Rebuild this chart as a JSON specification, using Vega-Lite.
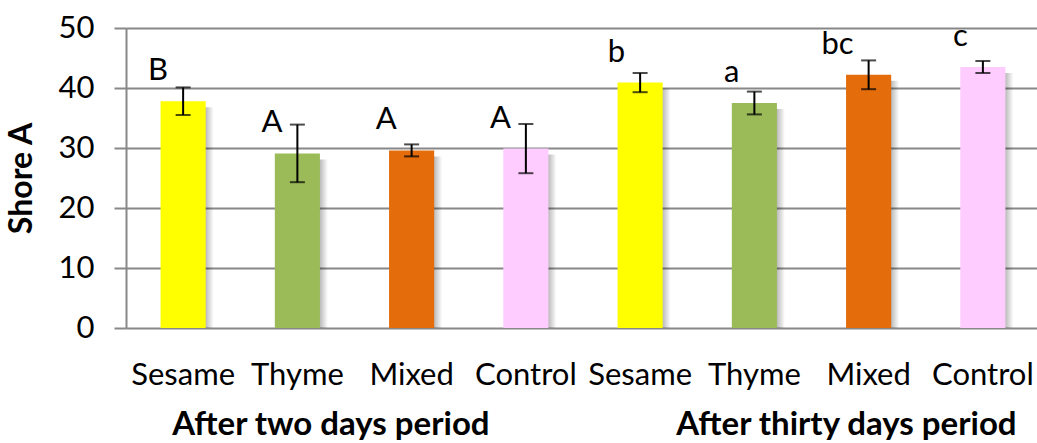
{
  "$schema": "https://vega.github.io/schema/vega-lite/v6.json",
  "autosize": "none",
  "width": 914,
  "height": 300,
  "padding": {"left": 126, "top": 28, "right": 0, "bottom": 115},
  "background": "white",
  "config": {
    "font": "Lato",
    "view": {"stroke": null},
    "axis": {"labelFont": "Lato", "titleFont": "Lato", "labelColor": "#000000", "titleColor": "#000000"}
  },
  "datasets": {
    "hardness": [
      {"period": "After two days period", "treatment": "Sesame", "key": "Sesame|two", "mean": 37.8, "sd": 2.3, "letter": "B"},
      {"period": "After two days period", "treatment": "Thyme", "key": "Thyme|two", "mean": 29.1, "sd": 4.8, "letter": "A"},
      {"period": "After two days period", "treatment": "Mixed", "key": "Mixed|two", "mean": 29.6, "sd": 1.0, "letter": "A"},
      {"period": "After two days period", "treatment": "Control", "key": "Control|two", "mean": 29.9, "sd": 4.1, "letter": "A"},
      {"period": "After thirty days period", "treatment": "Sesame", "key": "Sesame|thirty", "mean": 40.9, "sd": 1.6, "letter": "b"},
      {"period": "After thirty days period", "treatment": "Thyme", "key": "Thyme|thirty", "mean": 37.5, "sd": 1.9, "letter": "a"},
      {"period": "After thirty days period", "treatment": "Mixed", "key": "Mixed|thirty", "mean": 42.2, "sd": 2.4, "letter": "bc"},
      {"period": "After thirty days period", "treatment": "Control", "key": "Control|thirty", "mean": 43.5, "sd": 1.0, "letter": "c"}
    ]
  },
  "data": {"name": "hardness"},
  "encoding": {
    "x": {
      "field": "key",
      "type": "nominal",
      "scale": {
        "domain": ["Sesame|two", "Thyme|two", "Mixed|two", "Control|two", "Sesame|thirty", "Thyme|thirty", "Mixed|thirty", "Control|thirty"],
        "paddingInner": 0.605,
        "paddingOuter": 0.3025
      },
      "axis": {
        "title": null,
        "labelExpr": "split(datum.value, '|')[0]",
        "labelAngle": 0,
        "labelFontSize": 31,
        "labelBaseline": "alphabetic",
        "labelPadding": 56,
        "labelOverlap": false,
        "labelBound": false,
        "ticks": false,
        "tickSize": 0,
        "domain": false,
        "grid": false
      }
    }
  },
  "layer": [
    {
      "mark": {
        "type": "bar",
        "xOffset": 8,
        "yOffset": 6,
        "clip": true,
        "fill": {
          "gradient": "linear",
          "x1": 0, "y1": 0, "x2": 1, "y2": 0,
          "stops": [
            {"offset": 0, "color": "rgba(0,0,0,0.35)"},
            {"offset": 0.8, "color": "rgba(0,0,0,0.3)"},
            {"offset": 1, "color": "rgba(0,0,0,0)"}
          ]
        }
      },
      "encoding": {
        "y": {
          "field": "mean",
          "type": "quantitative",
          "title": "Shore A",
          "scale": {"domain": [0, 50], "nice": false},
          "axis": {
            "title": "Shore A",
            "titleFontSize": 32,
            "titleFontWeight": "bold",
            "titlePadding": 20,
            "values": [0, 10, 20, 30, 40, 50],
            "labelFontSize": 31,
            "labelPadding": 20,
            "grid": true,
            "gridColor": "#888888",
            "gridWidth": 2,
            "domainColor": "#888888",
            "domainWidth": 2,
            "tickColor": "#888888",
            "tickWidth": 2,
            "tickSize": 12
          }
        }
      }
    },
    {
      "mark": {"type": "bar"},
      "encoding": {
        "y": {"field": "mean", "type": "quantitative", "title": "Shore A"},
        "color": {
          "field": "treatment",
          "type": "nominal",
          "scale": {
            "domain": ["Sesame", "Thyme", "Mixed", "Control"],
            "range": ["#FFFF00", "#9BBB59", "#E46C0A", "#FFCCFF"]
          },
          "legend": null
        }
      }
    },
    {
      "mark": {
        "type": "errorbar",
        "ticks": {"size": 15, "thickness": 2, "color": "#000000"},
        "rule": {"strokeWidth": 2, "color": "#000000"}
      },
      "encoding": {
        "y": {"field": "mean", "type": "quantitative", "title": "Shore A"},
        "yError": {"field": "sd"}
      }
    },
    {
      "mark": {"type": "text", "align": "right", "baseline": "alphabetic", "dx": -15, "dy": -21, "fontSize": 31, "color": "#000000"},
      "encoding": {
        "y": {"field": "mean", "type": "quantitative", "title": "Shore A"},
        "text": {"field": "letter"}
      }
    },
    {
      "data": {"values": [{"key": "Sesame|two", "title": "After two days period"}]},
      "mark": {"type": "text", "align": "left", "baseline": "alphabetic", "dx": -11, "dy": 107, "fontSize": 33, "fontWeight": "bold", "color": "#000000"},
      "encoding": {
        "y": {"datum": 0, "type": "quantitative"},
        "text": {"field": "title"}
      }
    },
    {
      "data": {"values": [{"key": "Sesame|thirty", "title": "After thirty days period"}]},
      "mark": {"type": "text", "align": "left", "baseline": "alphabetic", "dx": 36, "dy": 107, "fontSize": 33, "fontWeight": "bold", "color": "#000000"},
      "encoding": {
        "y": {"datum": 0, "type": "quantitative"},
        "text": {"field": "title"}
      }
    }
  ]
}
